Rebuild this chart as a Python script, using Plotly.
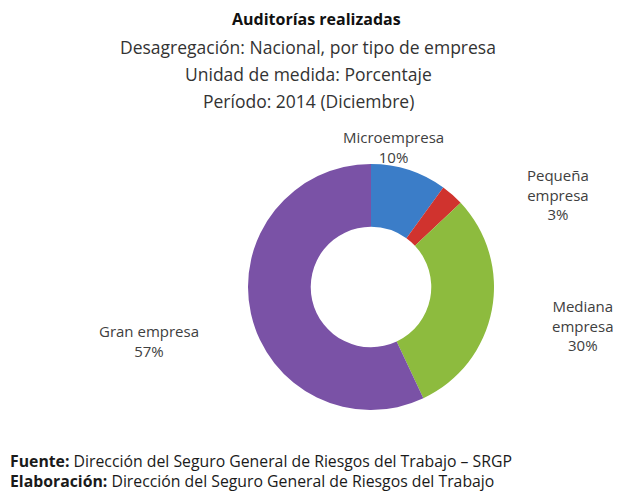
import plotly.graph_objects as go

# Data
categories = ["Microempresa", "Pequeña empresa", "Mediana empresa", "Gran empresa"]
values = [10, 3, 30, 57]
label_text = ["Microempresa", "Pequeña<br>empresa", "Mediana<br>empresa", "Gran empresa"]
colors = ["#3B7DC8", "#D0332E", "#8DBB3E", "#7A52A6"]

W, H = 622, 491
OFF = 8  # page body margin of the browser

def px(x, y):
    return (x - OFF) / W, 1 - (y - OFF) / H

cx, cy, r = 371, 287, 123
x0, _ = px(cx - r, 0)
x1, _ = px(cx + r, 0)
_, y0 = px(0, cy + r)
_, y1 = px(0, cy - r)

fig = go.Figure(go.Pie(
    labels=categories,
    values=values,
    hole=0.49,
    sort=False,
    direction="clockwise",
    rotation=0,
    marker=dict(colors=colors, line=dict(width=0)),
    textinfo="none",
    hoverinfo="label+percent",
    showlegend=False,
    domain=dict(x=[x0, x1], y=[y0, y1]),
))

font_main = "Open Sans"
annotations = []

def ann(text, x, y, size, color="#3a3a3a", xanchor="center", bold=False, align="center"):
    xp, yp = px(x, y)
    annotations.append(dict(
        text=f"<b>{text}</b>" if bold else text,
        x=xp, y=yp, xref="paper", yref="paper",
        xanchor=xanchor, yanchor="middle", showarrow=False, align=align,
        font=dict(family=font_main, size=size, color=color),
    ))

# Titles
ann("Auditorías realizadas", 316, 19, 16, color="#111111", bold=True)
ann("Desagregación: Nacional, por tipo de empresa", 308, 47, 17.5, color="#333333")
ann("Unidad de medida: Porcentaje", 308, 74, 17.5, color="#333333")
ann("Período: 2014 (Diciembre)", 308, 101, 17.5, color="#333333")

# Slice labels
pct = [f"{v}%" for v in values]
label_pos = [(393, 147), (558, 194), (583, 325), (149, 341)]
for t, p, (lx, ly) in zip(label_text, pct, label_pos):
    ann(f"{t}<br>{p}", lx, ly, 15, color="#404040")

# Footer
ann("<b>Fuente:</b> Dirección del Seguro General de Riesgos del Trabajo – SRGP", 8, 461, 15.8,
    color="#1a1a1a", xanchor="left", align="left")
ann("<b>Elaboración:</b> Dirección del Seguro General de Riesgos del Trabajo", 8, 481, 15.8,
    color="#1a1a1a", xanchor="left", align="left")

fig.update_layout(
    width=W, height=H,
    margin=dict(l=0, r=0, t=0, b=0),
    paper_bgcolor="white",
    plot_bgcolor="white",
    annotations=annotations,
)

fig.write_html("out.html")
